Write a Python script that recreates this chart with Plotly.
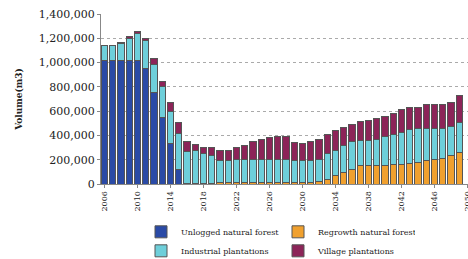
import plotly.graph_objects as go

years = list(range(2006, 2050))

unlogged = [1020000, 1020000, 1020000, 1020000, 1020000, 950000, 750000, 545000, 335000, 120000] + [0] * 34

regrowth = [0] * 10 + [3000, 3000, 3000, 3000,
            10000, 10000, 11000, 12000, 12000, 12000, 12000, 12000, 12000, 12000, 12000, 12000, 19000,
            40000, 66000, 94000, 122000, 155000, 155000, 155000, 155000, 163000, 163000,
            168000, 176000, 190000, 199000, 210000, 232000, 259000]

industrial = [120000, 120000, 140000, 180000, 220000, 230000, 235000, 255000, 260000, 300000,
              265000, 270000, 245000, 228000, 180000, 180000, 188000, 188000, 188000, 188000,
              188000, 188000, 188000, 178000, 178000, 180000, 185000, 210000, 214000, 221000,
              226000, 207000, 207000, 215000, 234000, 243000, 262000, 277000, 282000, 268000,
              259000, 248000, 243000, 249000]

village = [3000, 3000, 8000, 12000, 14000, 20000, 45000, 45000, 77000, 83000,
           82000, 56000, 52000, 69000, 89000, 89000, 101000, 115000, 150000, 164000,
           184000, 192000, 190000, 152000, 144000, 156000, 160000, 160000, 160000, 151000,
           146000, 154000, 163000, 166000, 166000, 176000, 188000, 182000, 174000, 194000,
           194000, 194000, 199000, 221000]

series = [
    ("Unlogged natural forest", unlogged, "#2A4AA6"),
    ("Regrowth natural forest", regrowth, "#F0A02E"),
    ("Industrial plantations", industrial, "#6ECFDA"),
    ("Village plantations", village, "#8C2458"),
]

tick_years = list(range(2006, 2051, 4))
y_ticks = list(range(0, 1400001, 200000))

FONT = "DejaVu Serif"

fig = go.Figure()
for name, vals, col in series:
    fig.add_trace(go.Bar(
        x=years, y=vals, name=name,
        marker=dict(color=col, line=dict(color="#555555", width=1)),
    ))

fig.update_layout(
    width=468, height=259,
    barmode="stack", bargap=0.25,
    plot_bgcolor="white", paper_bgcolor="white",
    margin=dict(l=101, r=0, t=14, b=75, autoexpand=False),
    font=dict(family=FONT, color="#222222"),
    legend=dict(
        orientation="h", x=0.109, y=-0.196, xanchor="left", yanchor="top",
        entrywidth=92, entrywidthmode="pixels",
        font=dict(size=8, family=FONT), traceorder="normal",
        tracegroupgap=0, itemwidth=30,
    ),
)

fig.update_xaxes(
    range=[2005.58, 2050.05], automargin=False,
    tickmode="array", tickvals=tick_years, ticktext=[str(t) for t in tick_years],
    tickangle=-90, tickfont=dict(size=8, family=FONT),
    ticklabeloverflow="allow",
    showline=True, linecolor="#888888", linewidth=1,
    ticks="outside", ticklen=3, tickcolor="#888888",
    showgrid=False, zeroline=False,
)

fig.update_yaxes(
    range=[0, 1400000], automargin=False,
    tickmode="array", tickvals=y_ticks, ticktext=[f"{v:,}" for v in y_ticks],
    tickfont=dict(size=11, family=FONT),
    showline=True, linecolor="#888888", linewidth=1,
    ticks="outside", ticklen=3, tickcolor="#888888",
    showgrid=True, gridcolor="#AAAAAA", griddash="dot", gridwidth=1,
    zeroline=False,
    title=dict(text="<b>Volume(m3)</b>", font=dict(size=9, family=FONT), standoff=14),
)

fig.write_html(
    "out.html",
    config={"displayModeBar": False},
    post_script="document.body.style.margin='0';document.body.style.overflow='hidden';",
)
